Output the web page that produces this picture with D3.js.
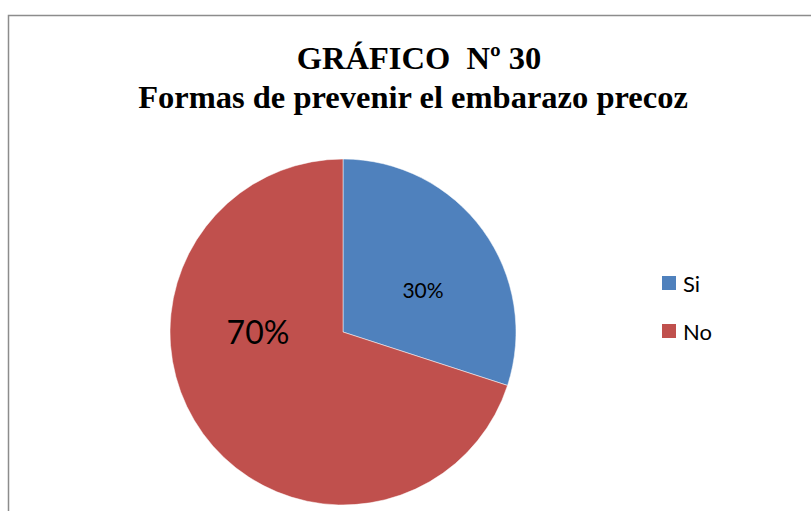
<!DOCTYPE html>
<html>
<head>
<meta charset="utf-8">
<script src="https://cdn.jsdelivr.net/npm/d3@7"></script>
<style>
  body { margin: 0; background: #fff; }
</style>
</head>
<body>
<div id="chart"></div>
<script>
var categories = ['Si', 'No'];
var values = [30, 70];
var colors = ['#4F81BD', '#C0504D'];
var titleLines = ['GRÁFICO  Nº 30', 'Formas de prevenir el embarazo precoz'];

var width = 811, height = 511;
var svg = d3.select('#chart').append('svg')
  .attr('width', width)
  .attr('height', height);

// chart frame (right and bottom edges fall outside the picture)
svg.append('rect')
  .attr('x', 8.5).attr('y', 15.5)
  .attr('width', 820).attr('height', 520)
  .attr('fill', '#fff')
  .attr('stroke', '#8c8c8c')
  .attr('stroke-width', 1.5);

var title = svg.append('text')
  .attr('text-anchor', 'middle')
  .style('font-family', '"Liberation Serif", "Times New Roman", serif')
  .style('font-weight', 'bold')
  .style('font-size', '32.5px')
  .style('white-space', 'pre')
  .attr('fill', '#000');
title.append('tspan').attr('x', 419).attr('y', 69).text(titleLines[0]);
title.append('tspan').attr('x', 413).attr('y', 108).text(titleLines[1]);

var cx = 343, cy = 332, r = 173;
var color = d3.scaleOrdinal().domain(categories).range(colors);
var pie = d3.pie().sort(null).value(d => d.value);
var data = categories.map((c, i) => ({ name: c, value: values[i] }));
var arcs = pie(data);
var arc = d3.arc().innerRadius(0).outerRadius(r);

var g = svg.append('g').attr('transform', 'translate(' + cx + ',' + cy + ')');
g.selectAll('path')
  .data(arcs)
  .enter()
  .append('path')
  .attr('d', arc)
  .attr('fill', d => color(d.data.name))
  .attr('stroke', '#fff')
  .attr('stroke-width', 0.5);

var total = d3.sum(values);
// label offsets from the pie centre, as placed in the original
var labelPos = [[80, -41], [-85, 1]];
var labelSize = [21, 32];
g.selectAll('text.lbl')
  .data(arcs)
  .enter()
  .append('text')
  .attr('class', 'lbl')
  .attr('transform', (d, i) => 'translate(' + labelPos[i][0] + ',' + labelPos[i][1] + ')')
  .attr('text-anchor', 'middle')
  .attr('dy', '0.35em')
  .style('font-family', 'Lato, "Open Sans", sans-serif')
  .style('font-size', (d, i) => labelSize[i] + 'px')
  .attr('fill', '#000')
  .text(d => Math.round(d.data.value / total * 100) + '%');

// legend
var legend = svg.append('g').attr('transform', 'translate(662,276)');
var item = legend.selectAll('g')
  .data(categories)
  .enter()
  .append('g')
  .attr('transform', (d, i) => 'translate(0,' + i * 48 + ')');
item.append('rect')
  .attr('width', 14).attr('height', 14)
  .attr('fill', d => color(d));
item.append('text')
  .attr('x', 21).attr('y', 15.5)
  .style('font-family', 'Lato, "Open Sans", sans-serif')
  .style('font-size', '22px')
  .attr('fill', '#000')
  .text(d => d);
</script>
</body>
</html>
